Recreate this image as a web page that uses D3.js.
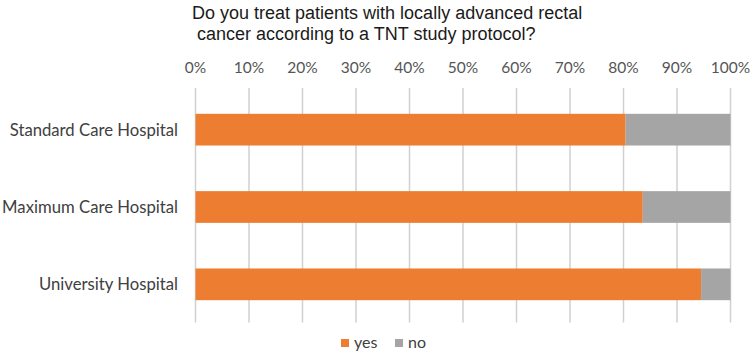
<!DOCTYPE html>
<html><head><meta charset="utf-8">
<script src="https://cdn.jsdelivr.net/npm/d3@7"></script>
<style>body{margin:0;background:#fff}</style>
</head><body>
<svg id="c" width="752" height="354"></svg>
<script>
const categories = ["Standard Care Hospital", "Maximum Care Hospital", "University Hospital"];
const yesValues = [80.4, 83.6, 94.5];
const noValues = [19.6, 16.4, 5.5];
const seriesNames = ["yes", "no"];
const seriesColors = ["#ED7D31", "#A5A5A5"];
const tickValues = [0,10,20,30,40,50,60,70,80,90,100];
const titleLines = ["Do you treat patients with locally advanced rectal", " cancer according to a TNT study protocol?"];

const svg = d3.select("#c");
const x = d3.scaleLinear().domain([0,100]).range([195.5, 730.5]);
const y = d3.scaleBand().domain(categories).range([91, 323]).paddingInner(0.59).paddingOuter(0.295);

// gridlines
svg.append("g").selectAll("line").data(tickValues).join("line")
  .attr("x1", d=>x(d)).attr("x2", d=>x(d)).attr("y1", 88).attr("y2", 322.5)
  .attr("stroke", "#D0D0D0").attr("stroke-width", 1.5);

// tick labels
svg.append("g").selectAll("text").data(tickValues).join("text")
  .attr("x", d=>x(d)).attr("y", 73).attr("text-anchor","middle")
  .attr("font-family","Lato,'Open Sans',sans-serif").attr("font-size",15.5)
  .attr("fill","#555").text(d=>d+"%");

// bars
const rows = categories.map((c,i)=>({c, yes:yesValues[i], no:noValues[i]}));
const stack = d3.stack().keys(seriesNames)(rows);
svg.append("g").selectAll("g").data(stack).join("g")
  .attr("fill",(d,i)=>seriesColors[i])
  .selectAll("rect").data(d=>d).join("rect")
  .attr("x", d=>x(d[0])).attr("width", d=>x(d[1])-x(d[0]))
  .attr("y", d=>y(d.data.c)).attr("height", y.bandwidth());

// category labels
svg.append("g").selectAll("text").data(categories).join("text")
  .attr("x", 178).attr("y", d=>y(d)+y.bandwidth()/2+6).attr("text-anchor","end")
  .attr("font-family","Lato,'Open Sans',sans-serif").attr("font-size",16.7)
  .attr("fill","#404040").text(d=>d);

// title
svg.append("g").selectAll("text").data(titleLines).join("text")
  .attr("x", 192).attr("y",(d,i)=>19+i*21).attr("xml:space","preserve").style("white-space","pre")
  .attr("font-family","'Liberation Sans',Arial,sans-serif").attr("font-size",18)
  .attr("fill","#1a1a1a").text(d=>d);

// legend
const lg = svg.append("g");
const lx = [341, 395];
seriesNames.forEach((s,i)=>{
  lg.append("rect").attr("x", lx[i]).attr("y", 339).attr("width", 8).attr("height", 8).attr("fill", seriesColors[i]);
  lg.append("text").attr("x", lx[i]+13).attr("y", 348).attr("font-family","Lato,'Open Sans',sans-serif")
    .attr("font-size",16).attr("fill","#404040").text(s);
});
</script>
</body></html>
